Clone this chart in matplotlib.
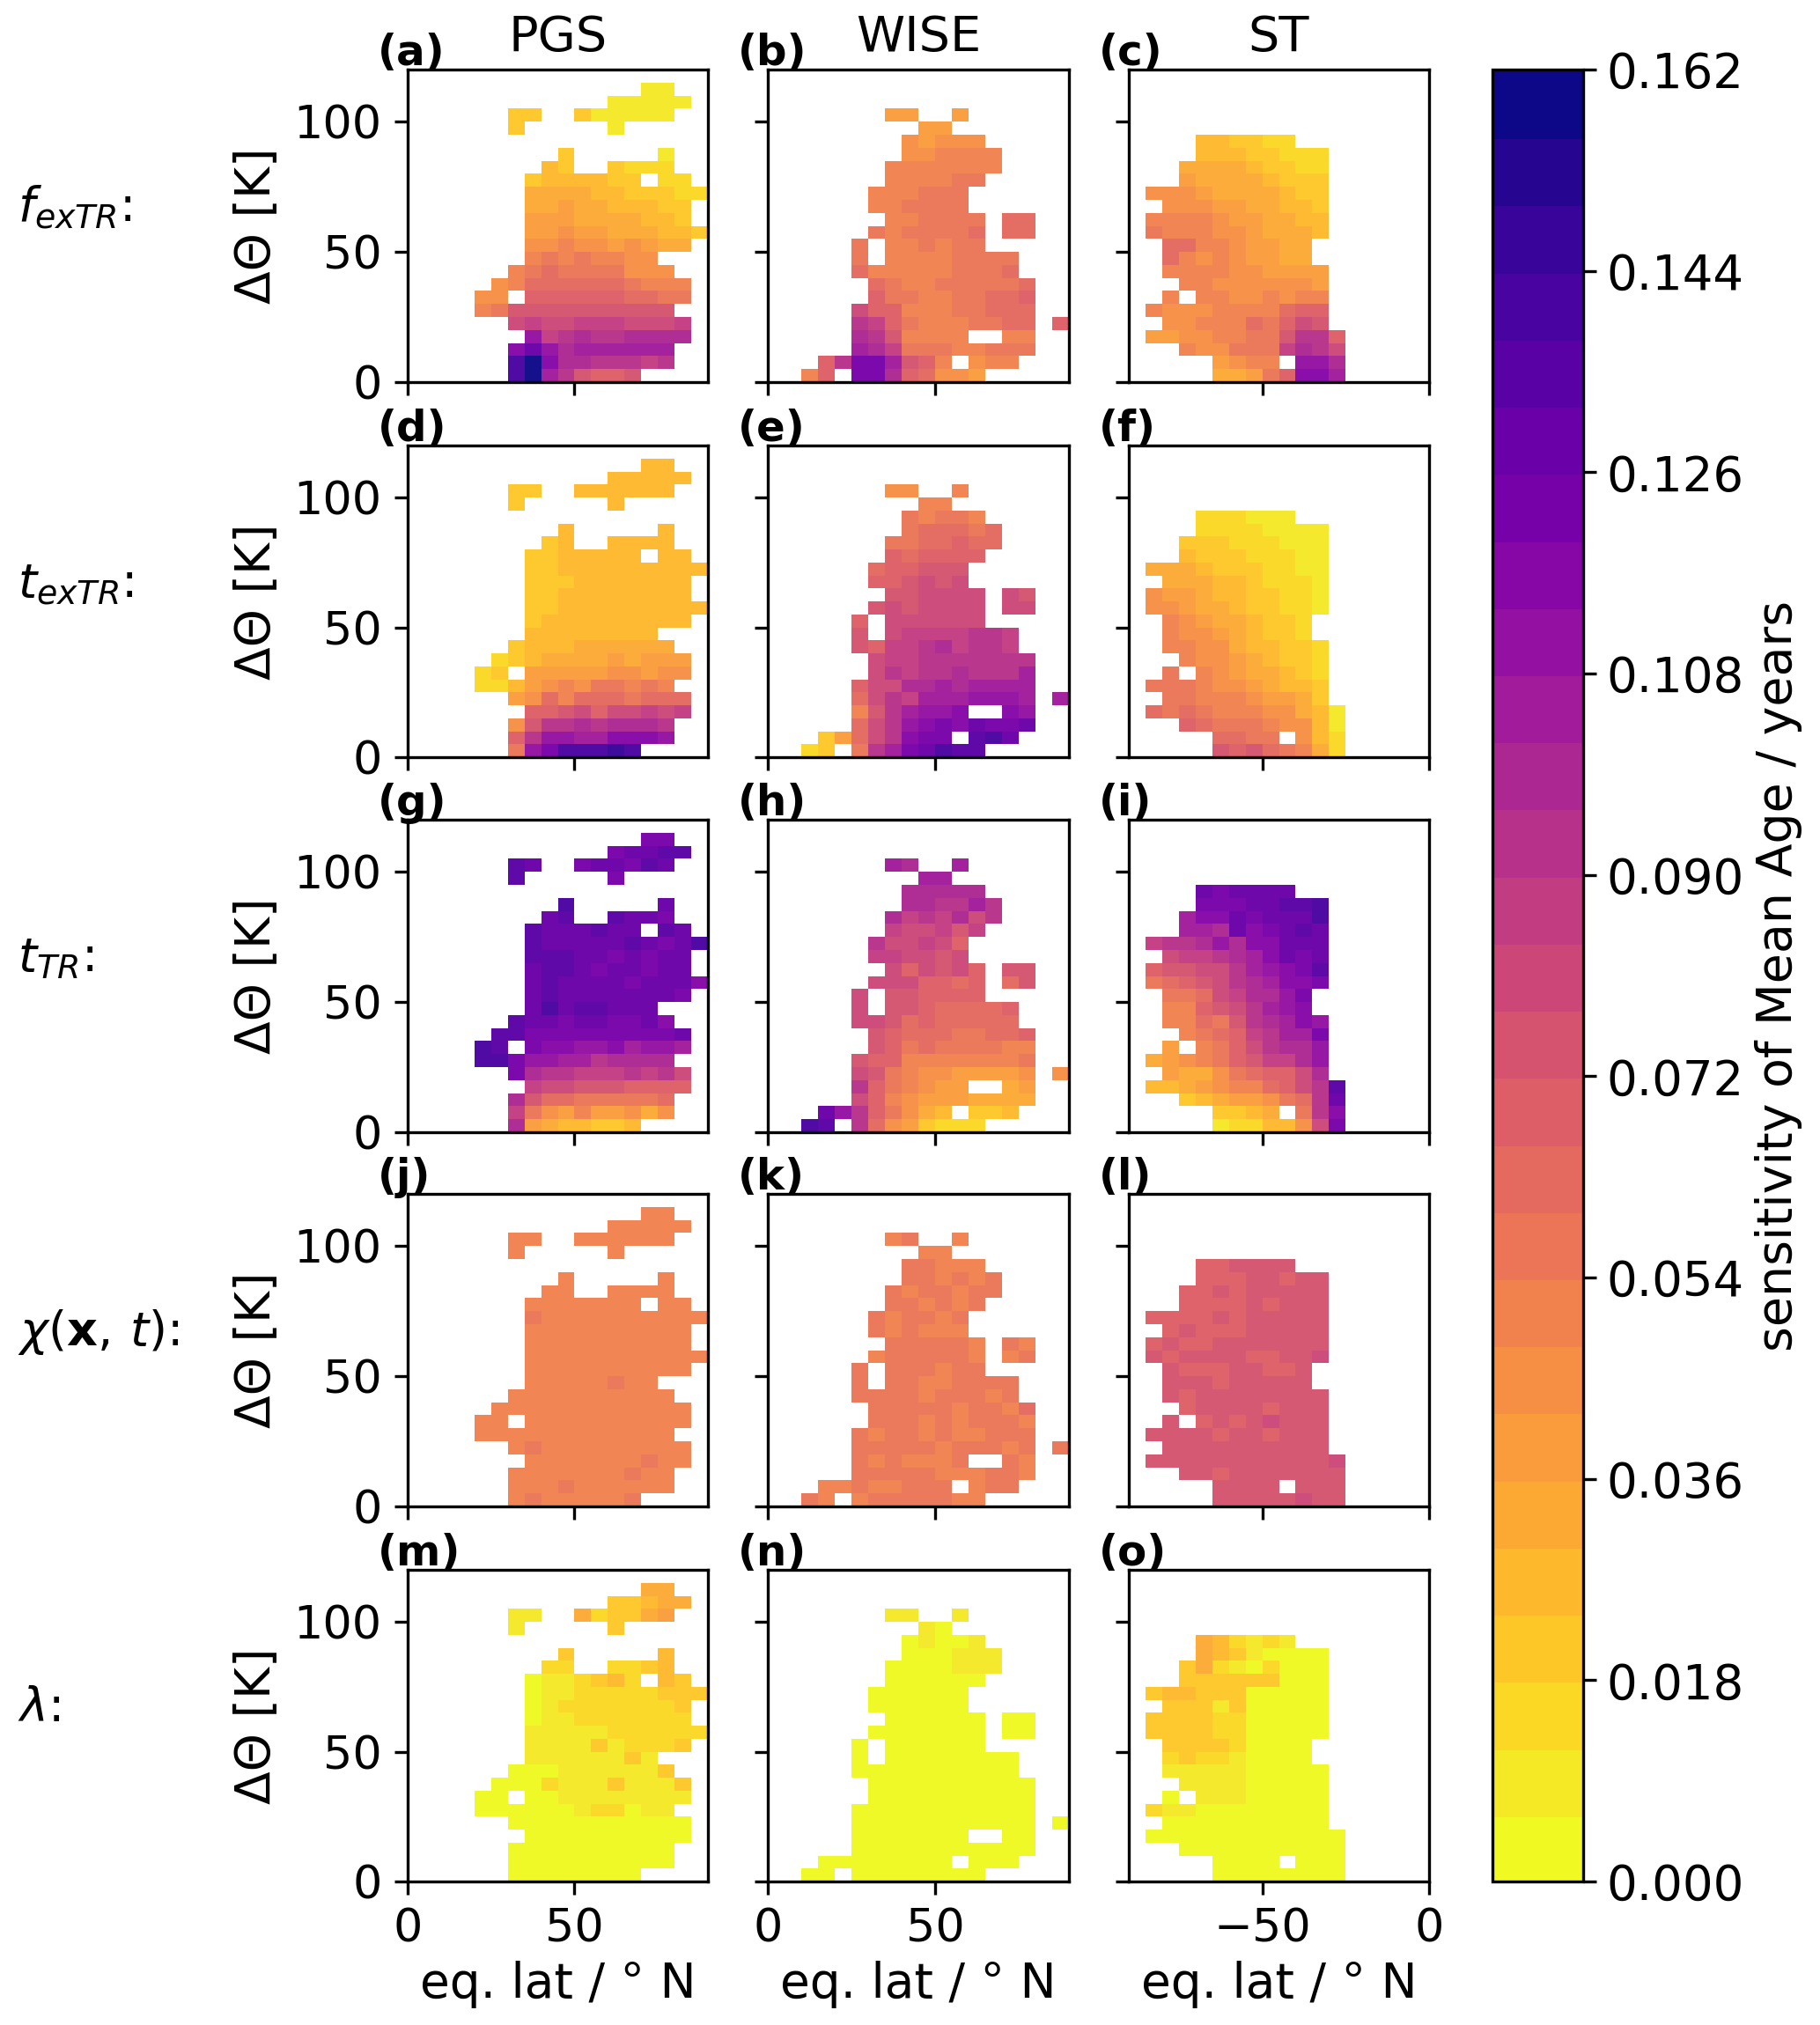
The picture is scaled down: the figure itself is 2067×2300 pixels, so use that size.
import numpy as np
import matplotlib
matplotlib.use("Agg")
import matplotlib.pyplot as plt
from matplotlib.colors import BoundaryNorm

W, H = 2067, 2300
DPI = 300
E = "." * 18
# Cell values as colour-bin codes, top row = 110-115 K, bottom row = 0-5 K.
# Code: '.' no data, 0-9 then a-q = bin number (bin width 0.006 years).
panel_a = ["..............11..","............11111.","......33..311111..","......3.....1.....",E,
".........3.....1..","........43..3222..",".......3444433.22.",".......55554433322",".......5565544433.",
".......6665555443.",".......66766555443",".......7787767655.",".......89898877...","......89a9999777..",
".....78aaaaaa9888.","....77.bbbbbbaa99.","....89cccccccccc..","......deddeeeddde.",".......iefgffgggg.",
"......jlighhhhhh..","......nqjggfffef..","......nqhfcbbc...."]
panel_b = [E,E,".......66..6......",".........66.......","........76777.....",
"........778888....",".......8888888....",".......888899.....","......888999......","......889999......",
".......889999.aa..","......989999a.aa..",".....9.889899.....",".....9.88889999...",".....a88888999a...",
"......a98899999a..","......b998899aab..",".....dbb88899aaa..",".....feb988899aa.b",".....gfc8888..88..",
".....hge99988999..","...bfkkhcb8.788...","..8b.kkgba776....."]
panel_c = [E,E,E,E,"....443322........",
"....44433222......","...555543322......","...655554333......",".77765555433......","..7776655443......",
".88887665544......",".98887765554......","..aa8876655.......","..a87876655.......","..8888776666......",
"...887777776......","..8.88778788......",".87778888abb......","..77888a9bdc......",".66778899cffb.....",
"...877999egfd.....",".....6788.iig.....",".....5569bjjh....."]
panel_d = ["..............44..","............44444.","......33..444444..","......3.....4.....",E,
".........4.....4..","........34..4444..",".......3344444.44.",".......33444444444",".......3334444444.",
".......3344444444.",".......33444444444",".......3444444444.",".......44444444...","......3444555555..",
".....234555565666.","....23.6666677677.","....224678799898..","......67a8aaa9aaa.",".......bbcdbddede.",
"......7cffgfgggf..","......bfiihhjjji..","......9iknnnon...."]
panel_e = [E,E,".......77..8......",".........88.......","........98998.....",
"........9aaa9a....",".......99aabaa....",".......babbbb.....","......abbccc......","......bbcdcd......",
".......ccdddd.dc..","......cdcdddd.dd..",".....b.dddddd.....",".....c.deeeeffe...",".....cbeefgeffe...",
"......deefffffff..","......dfeffgfffh..",".....bddgghghhhh..",".....adfehhhiiih.h",".....8cfhiij..ji..",
".....adfijkjlkkl..","...36adfjkk.mnl...","..23.9fhklnmm....."]
panel_f = [E,E,E,E,"....222111........",
"....22221111......","...333222111......","...433322211......",".55543332211......","..5554432221......",
".76654433221......",".77655433221......","..876554332.......","..877654332.......","..8877544332......",
"...877654332......","..9.87655432......",".99987765443......","..9988876653......",".a9a988877541.....",
"...ba99987741.....",".....aa99.742.....",".....cbca9852....."]
panel_g = ["..............kk..","............kllmm.","......ml..kllkml..","......m.....k.....",E,
".........n.....l..","........lm..mllk..",".......mlllmll.ml.",".......mlllllmlkln",".......mmmllklkll.",
".......lmmlkllkll.",".......lmllllklllj",".......lmlllllllk.",".......lnlmmlll...","......mllkllkklj..",
".....mmkkkkkkkkkl.","....nm.kjjiijhiih.","....nnkiihhfgggg..","......kgffeeefefd.",".......eddcccbbbb.",
"......gcaa99999a..","......e976866757..","......g6544334...."]
panel_h = [E,E,".......hg..h......",".........hh.......","........ggggg.....",
"........ggffhf....",".......gefegdf....",".......eddece.....","......fddedb......","......eeddcd......",
".......dbdcdb.cc..","......dddbbab.ac..",".....d.ccbbbb.....",".....d.ccbaaaab...",".....ddcabaaaaa...",
"......cbaaa99aab..","......cb9a999988..",".....cbb88888889..",".....dc987766667.7",".....fb98766..56..",
".....db876665555..","...lifb9754.334...","..nm.fa763222....."]
panel_i = [E,E,E,E,"....lkllll........",
"....kkkllmmn......","...hjjlkllln......","...hhgljklml......",".effgigjjlll......","..deefghjlkl......",
".bccddfhijkm......",".9abcdfghjjk......","..99adeggik.......","..88bcdfhij.......","..88a9cfghji......",
"...89abefhhk......","..6.89bdfggi......",".56789bceegi......","..65579abbdg......",".4456788abdfm.....",
"...3456679afl.....",".....3345.9fj.....",".....122447dk....."]
panel_j = ["..............88..","............88888.","......88..888888..","......8.....8.....",E,
".........8.....8..","........88..8888..",".......8888888.88.",".......98888888888",".......8888888888.",
".......8888888888.",".......88888888888",".......8888888888.",".......88888988...","......8888888888..",
".....888888888888.","....88.8888888888.","....888888888888..","......89888888888.",".......8888888988.",
"......8888888988..","......8889888888..","......89888889...."]
panel_k = [E,E,".......89..8......",".........88.......","........99888.....",
"........998989....",".......9899899....",".......998989.....","......989989......","......989888......",
".......999998.98..","......8999998.89..",".....9.999899.....",".....9.99889999...",".....9999899989...",
"......999998998a..","......9998989998..",".....98998988999..",".....99999899989.9",".....9898889..98..",
".....99999888998..","...88988999.899...","..98.89999988....."]
panel_l = [E,E,E,E,"....bbcccc........",
"....bbbccbcc......","...bbcbccccc......","...bbbbcbccc......",".bbbbcbccccc......","..bcbbbccccc......",
".bcbbccccccc......",".cbccccbbccd......","..cbbbccbbc.......","..cccbccccc.......","..cbcccccccc......",
"...bccccbccc......","..c.bcbcdccc......",".ccccbccbccc......","..cccccccccc......",".cccccccccccd.....",
"...ccbccccccc.....",".....cccc.ccc.....",".....cccccdcc....."]
panel_m = ["..............55..","............33455.","......11..523356..","......1.....3.....",E,
".........3.....4..","........22..2234..",".......0112342.43.",".......01122222333",".......0122222223.",
".......0112222222.",".......11111222222",".......1111312223.",".......11111131...","......0001111113..",
".....000211131113.","....00.0011111111.","....000000122011..","......00000000000.",".......0000000000.",
"......0000000000..","......0000000000..","......00000000...."]
panel_n = [E,E,".......11..1......",".........10.......","........01001.....",
"........000111....",".......0000111....",".......000000.....","......000000......","......000000......",
".......000000.00..","......0000000.00..",".....0.000000.....",".....0.00000000...",".....0000000000...",
"......0000000000..","......0000000000..",".....00000000000..",".....00000000000.0",".....0000000..00..",
".....00000000000..","...00000000.000...","..00.00000000....."]
panel_o = [E,E,E,E,"....542121........",
"....54310000......","...352102000......","...333333000......",".34433300000......","..3331300000......",
".33332200000......",".33332200000......","..333320000.......","..232210000.......","..1111100000......",
"...111100000......","..0.11100000......",".21100000000......","..0000000000......",".000000000000.....",
"...0000000000.....",".....0000.000.....",".....00000000....."]

panels = [panel_a, panel_b, panel_c, panel_d, panel_e, panel_f, panel_g, panel_h,
          panel_i, panel_j, panel_k, panel_l, panel_m, panel_n, panel_o]
panel_tags = list("abcdefghijklmno")
columns = ["PGS", "WISE", "ST"]
row_names = [r"$f_{exTR}$:", r"$t_{exTR}$:", r"$t_{TR}$:", r"$\chi(\mathbf{x},\,t)$:", r"$\lambda$:"]
cbar_ticks = [0.000, 0.018, 0.036, 0.054, 0.072, 0.090, 0.108, 0.126, 0.144, 0.162]
BIN = 0.006
NBIN = 27

codes = "0123456789abcdefghijklmnopq"
def decode(rows):
    assert len(rows) == 23, len(rows)
    out = np.full((24, 18), np.nan)
    for i, row in enumerate(rows):
        assert len(row) == 18, row
        for j, ch in enumerate(row):
            if ch != ".":
                out[22 - i, j] = (codes.index(ch) + 0.5) * BIN
    return np.ma.masked_invalid(out)

FS = 13.2
plt.rcParams.update({"font.size": FS, "mathtext.default": "it",
                     "xtick.labelsize": 12.6, "ytick.labelsize": 12.6})
fig = plt.figure(figsize=(W / DPI, H / DPI), dpi=DPI)

def axpx(l, t, r, b):
    return [l / W, 1 - b / H, (r - l) / W, (b - t) / H]

col_l = [463, 872, 1282]
col_r = [804, 1214, 1623]
row_t = [79, 506, 931, 1356, 1783]
row_b = [434, 860, 1286, 1711, 2137]
levels = np.arange(NBIN + 1) * BIN
cmap = plt.get_cmap("plasma_r")
norm = BoundaryNorm(levels, cmap.N)
y_edges = np.arange(0, 125, 5)

mesh = None
for r in range(5):
    for c in range(3):
        ax = fig.add_axes(axpx(col_l[c], row_t[r], col_r[c], row_b[r]))
        x_edges = np.arange(0, 95, 5) if c < 2 else np.arange(-90, 5, 5)
        mesh = ax.pcolormesh(x_edges, y_edges, decode(panels[r * 3 + c]), cmap=cmap, norm=norm,
                             antialiased=True, linewidth=0, alpha=0.97)
        ax.set_ylim(0, 120)
        ax.set_xlim(x_edges[0], x_edges[-1])
        ax.set_yticks([0, 50, 100])
        ax.set_xticks([0, 50] if c < 2 else [-50, 0])
        if c == 0:
            ax.set_ylabel("ΔΘ [K]", labelpad=3.5)
        else:
            ax.tick_params(labelleft=False)
        if r == 4:
            ax.set_xlabel("eq. lat / ° N", labelpad=2.5)
        else:
            ax.tick_params(labelbottom=False)
        if r == 0:
            ax.set_title(columns[c], fontsize=13.4, pad=5)
        fig.text((col_l[c] - 34) / W, 1 - (row_t[r] - 5) / H, "(%s)" % panel_tags[r * 3 + c],
                 fontsize=11.6, fontweight="bold", ha="left", va="baseline")
    fig.text(20 / W, 1 - (row_t[r] + 172) / H, row_names[r], fontsize=13.0, ha="left", va="baseline")

cax = fig.add_axes(axpx(1695, 79, 1798, 2137))
cb = fig.colorbar(mesh, cax=cax, ticks=cbar_ticks, format="%.3f")
cb.ax.minorticks_off()
cb.ax.tick_params(labelsize=13.1, pad=2.8)
cb.solids.set_alpha(1)
cb.solids.set_edgecolor("face")
cb.set_label("sensitivity of Mean Age / years", fontsize=13.3, labelpad=3)
fig.savefig("out.png", dpi=DPI)
